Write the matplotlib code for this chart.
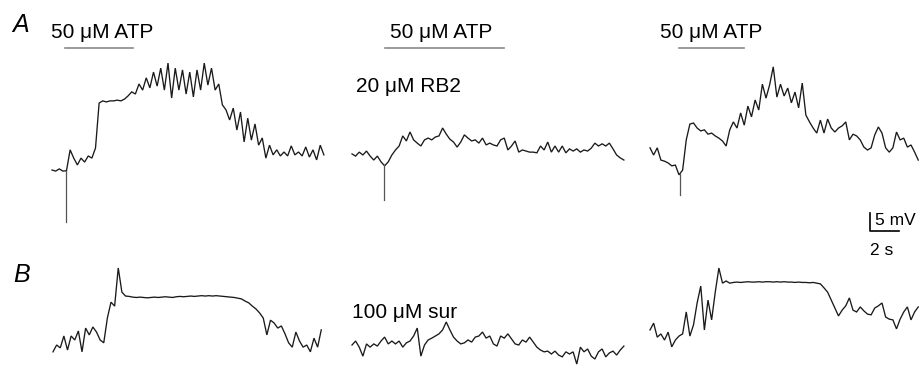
import numpy as np
import matplotlib
matplotlib.use("Agg")
import matplotlib.pyplot as plt

plt.rcParams['font.family'] = ['Liberation Sans', 'DejaVu Sans']

# ---------------- data (mV relative to each trace's start level, sampled every DT s)
DT = 0.25
trace_A1 = [0, -0.3, 0.3, -0.3, -0.2, 5.6, 3.3, 1.4, 3.3, 2.2, 3.9, 3.3, 6.1, 18.6, 19.2, 18.9,
            19.2, 19.2, 19.4, 19.2, 19.7, 20.6, 21.7, 21.1, 23.9, 22.2, 25.6, 22.8, 27.2, 23.3,
            28.3, 22.2, 29.7, 20.0, 28.3, 22.2, 27.8, 21.1, 27.2, 20.3, 27.8, 22.2, 29.7, 23.6,
            28.3, 22.2, 23.9, 18.1, 16.7, 13.9, 17.2, 11.1, 16.1, 7.8, 14.4, 8.3, 12.8, 6.9, 8.9,
            3.3, 6.9, 4.2, 5.6, 3.9, 5.0, 3.9, 6.7, 4.2, 5.0, 3.9, 6.4, 3.6, 5.6, 2.8, 6.9, 4.2]
trace_A2 = [0.3, -0.3, 0.8, 0, 1.1, -0.3, -1.4, -0.3, -1.9, -3.0, -1.9, 0, 1.4, 2.5, 5.3, 3.9,
            6.4, 4.2, 3.3, 2.5, 4.2, 4.7, 4.2, 5.0, 5.3, 7.5, 5.8, 4.4, 3.6, 2.2, 3.6, 5.6, 4.7,
            3.9, 4.2, 3.3, 4.7, 2.8, 3.3, 2.8, 2.5, 4.2, 4.7, 1.4, 2.5, 3.9, 0.8, 1.4, 1.1, 0.8,
            0.8, 0.6, 2.5, 1.4, 3.6, 0.8, 2.5, 0.8, 2.5, 0.6, 1.7, 1.1, 1.7, 0.8, 1.4, 1.1, 1.9,
            3.3, 2.5, 3.1, 2.5, 3.3, 1.7, 0, -0.8, -1.4]
trace_A3 = [0.6, -1.4, 0.6, -2.8, -3.1, -3.6, -4.4, -4.2, -6.9, -5.6, 2.8, 7.2, 7.5, 6.1, 5.3,
            5.6, 4.4, 4.7, 3.9, 3.3, 2.5, 1.1, 5.6, 7.8, 6.1, 10.3, 6.9, 12.2, 9.2, 13.9, 11.1,
            18.3, 14.4, 18.1, 23.1, 14.7, 18.3, 15.0, 17.2, 13.1, 16.1, 11.7, 18.6, 9.7, 7.8, 6.1,
            4.7, 8.3, 4.7, 8.6, 6.1, 5.0, 6.1, 6.7, 7.8, 2.8, 4.4, 3.9, 2.8, 0.8, 0, 0.6, 4.2,
            6.4, 4.7, 0.6, -0.6, 0.6, 5.0, 2.8, 3.3, 0.8, 1.4, -0.6, -2.8]
trace_B1 = [-1.9, 0, -0.8, 2.5, -1.4, 2.5, 1.4, 3.9, -1.9, 4.7, 2.8, 5.0, 3.6, 1.4, 0.6, 7.5,
            11.9, 10.8, 21.4, 14.7, 13.6,
            13.5, 13.3, 13.2, 13.3, 13.2, 13.1, 13.2, 13.3, 13.2, 13.3, 13.4, 13.3, 13.2, 13.4,
            13.5, 13.4, 13.5, 13.6, 13.5, 13.6, 13.7, 13.6, 13.7, 13.6, 13.7, 13.6, 13.5, 13.4,
            13.3, 13.2, 13.0,
            12.8, 12.2, 11.7, 10.8, 10.0, 8.9, 7.5, 2.8, 6.9, 6.1, 4.7, 5.3, 3.1, 0.6, -0.6, 3.6,
            1.1, -0.6, 0, -1.9, 1.9, -0.6, 4.2]
trace_B2 = [0, 1.1, -0.6, -3.1, 0.3, -0.6, 0.3, -0.3, 1.1, 2.2, 0.3, 1.1, 0.3, 1.1, -0.6, 0.6,
            1.1, 2.5, 4.7, -3.1, 0, 1.4, 1.9, 2.5, 3.1, 4.2, 6.4, 4.2, 2.2, 1.1, 0.3, 0.6, 1.4,
            0.8, 2.2, 2.5, 3.6, 1.9, 2.5, 0.3, -0.3, 2.5, 1.9, 3.1, 1.7, 0.3, 0, 1.4, 0.8, 2.2,
            0.8, -0.6, -1.4, -1.9, -1.7, -2.5, -1.7, -2.8, -3.3, -1.9, -2.5, -1.9, -5.3, -0.6,
            -1.9, -1.1, -3.1, -3.9, -1.9, -1.1, -3.3, -2.2, -1.7, -2.8, -1.4, -0.3]
trace_B3 = [1.4, 3.3, -0.6, 0.3, -1.4, 0.8, -3.3, -1.4, -0.3, 0.3, 6.4, -0.3, 2.8, 8.9, 13.6,
            1.4, 9.7, 4.2, 11.9, 18.6, 14.4, 15.0, 14.4,
            14.6, 14.7, 14.6, 14.7, 14.8, 14.7, 14.7, 14.8, 14.7, 14.8, 14.8, 14.7, 14.8, 14.7,
            14.8, 14.7, 14.7, 14.6, 14.7, 14.6, 14.6, 14.5, 14.6, 14.4,
            14.2, 13.1, 11.9, 9.7, 7.5, 5.3, 6.9, 8.1, 10.3, 6.9, 6.4, 7.8, 6.7, 5.8, 5.6, 7.5,
            8.1, 8.9, 5.0, 4.4, 4.2, 1.7, 4.4, 6.4, 7.8, 4.2, 6.4, 7.8]

# fast downward transients at ATP onset: (time s, depth mV)
spike_A1 = (0.95, -14.4)
spike_A2 = (2.2, -12.5)
spike_A3 = (2.07, -12.5)

# ATP application (start, end) in s from trace start
atp_A1 = (0.9, 5.6)
atp_A2 = (2.3, 10.5)
atp_A3 = (2.0, 6.5)

atp_label = "50 \u03bcM ATP"
drug_labels = ["20 \u03bcM RB2", "100 \u03bcM sur"]
panel_labels = ["A", "B"]
scale_mv = 5
scale_s = 2

# ---------------- layout (pixel based)
W, H = 920, 367
PX_PER_S = 14.5
PX_PER_MV = 3.6

fig = plt.figure(figsize=(W / 100, H / 100), dpi=100)
ax = fig.add_axes([0, 0, 1, 1])
ax.set_xlim(0, W / PX_PER_S)
ax.set_ylim(0, H / PX_PER_MV)
ax.axis('off')


def xs(px):
    return px / PX_PER_S


def ys(py):
    return (H - py) / PX_PER_MV


LC = '#1a1a1a'
traces = [
    (trace_A1, 52, 170, spike_A1),
    (trace_A2, 352, 155, spike_A2),
    (trace_A3, 650, 150, spike_A3),
    (trace_B1, 53, 345, None),
    (trace_B2, 352, 345, None),
    (trace_B3, 650, 335, None),
]
for vals, x0, y0, spk in traces:
    v = np.asarray(vals, dtype=float)
    t = np.arange(len(v)) * DT
    ax.plot(xs(x0) + t, ys(y0) + v, color=LC, lw=0.95, solid_joinstyle='miter')
    if spk is not None:
        ts, depth = spk
        top = np.interp(ts, t, v)
        ax.plot([xs(x0) + ts, xs(x0) + ts], [ys(y0) + top, ys(y0) + depth],
                color='#555555', lw=0.9)

# ATP bars
for (a, b), x0 in zip([atp_A1, atp_A2, atp_A3], [52, 352, 650]):
    ax.plot([xs(x0) + a, xs(x0) + b], [ys(48), ys(48)], color='#8a8a8a', lw=1.2)


def ftext(px, py, s, **kw):
    fig.text(px / W, 1 - py / H, s, **kw)


ftext(21, 32, panel_labels[0], fontsize=18, style='italic', ha='center', va='baseline')
ftext(22, 282, panel_labels[1], fontsize=18, style='italic', ha='center', va='baseline')
for cx in [102.5, 441.5, 711]:
    ftext(cx, 38.5, atp_label, fontsize=15, ha='center', va='baseline')
ftext(408, 92, drug_labels[0], fontsize=15, ha='center', va='baseline')
ftext(405, 318, drug_labels[1], fontsize=15, ha='center', va='baseline')

# scale bar
sx, sy = xs(870), ys(231)
ax.plot([sx, sx, sx + scale_s], [sy + scale_mv, sy, sy], color='black', lw=1.2)
ftext(875, 225, f"{scale_mv} mV", fontsize=12.5, ha='left', va='baseline')
ftext(882, 255, f"{scale_s} s", fontsize=12.5, ha='center', va='baseline')

fig.savefig("out.png", dpi=100)
